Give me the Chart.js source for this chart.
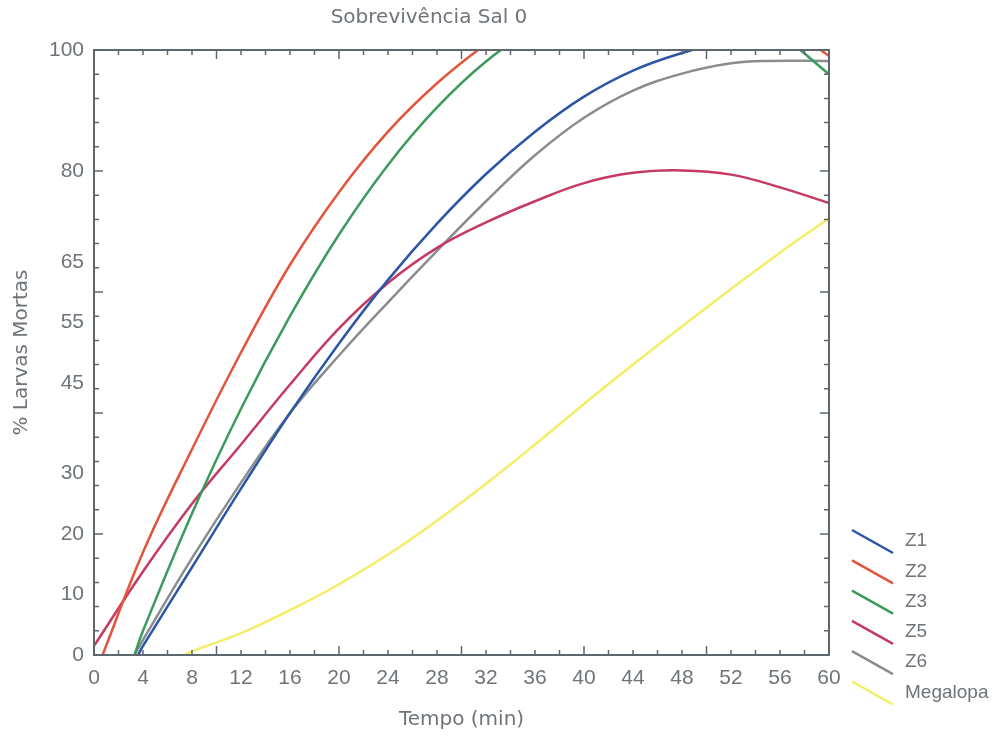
<!DOCTYPE html>
<html>
<head>
<meta charset="utf-8">
<title>Sobrevivência Sal 0</title>
<script src="https://cdn.jsdelivr.net/npm/chart.js@4/dist/chart.umd.min.js"></script>
<style>
  html, body { margin: 0; padding: 0; background: #fff; }
  #wrap { width: 1006px; height: 737px; }
</style>
</head>
<body>
<div id="wrap"><canvas id="chart"></canvas></div>
<script>
// values (time in min, % dead larvae)
const z1Time = [3.6, 4, 8, 12, 16, 20, 24, 28, 32, 36, 40, 44, 48, 52, 56, 60];
const z1Vals = [0, 1.5, 14.5, 27.5, 40, 51.5, 62, 71.3, 79.5, 86.5, 92.3, 96.6, 99.5, 101.5, 102.5, 103];

const z2Time = [0.7, 4, 8, 12, 16, 20, 24, 28, 32, 36, 40, 44, 48, 52, 56, 60];
const z2Vals = [0, 17, 34, 50, 64.5, 76.5, 86.5, 94.5, 101, 106.5, 110, 111.5, 111, 108.8, 104.7, 99];

const z3Time = [3.3, 4, 8, 12, 16, 20, 24, 28, 32, 36, 40, 44, 48, 52, 56, 60];
const z3Vals = [0, 4, 23.4, 40.7, 56, 69.5, 81, 90.5, 98.1, 103.7, 107.4, 109.1, 108.8, 106.6, 102.5, 96];

const z5Time = [0, 4, 8, 12, 16, 20, 24, 28, 32, 36, 40, 44, 48, 52, 56, 60];
const z5Vals = [1.5, 13.8, 25, 34.8, 44.7, 54, 61.5, 67.3, 71.5, 75, 78, 79.7, 80.1, 79.4, 77.3, 74.7];

const z6Time = [3.3, 4, 8, 12, 16, 20, 24, 28, 32, 36, 40, 44, 48, 52, 55, 60];
const z6Vals = [0, 2.5, 16, 28.5, 40, 49.5, 58.3, 66.8, 75, 82.6, 88.8, 93.3, 96.1, 97.8, 98.2, 98.2];

const megTime = [7.4, 8, 12, 16, 20, 24, 28, 32, 36, 40, 44, 48, 52, 56, 60];
const megVals = [0, 0.6, 3.6, 7.4, 11.7, 16.6, 22.2, 28.3, 34.8, 41.5, 48, 54.3, 60.5, 66.5, 72.2];

const seriesNames = ['Z1', 'Z2', 'Z3', 'Z5', 'Z6', 'Megalopa'];
const seriesColors = ['#2d55a6', '#e3553b', '#3c9a5c', '#c63a62', '#8a8d90', '#f4ee66'];

const yTickLabels = [0, 10, 20, 30, 45, 55, 65, 80, 100];

const textColor = '#6e7479';
const axisColor = '#5f676e';
const tickFont = '"Liberation Sans", Arial, sans-serif';
const titleFont = '"DejaVu Sans", sans-serif';

function toPoints(times, vals) {
    return times.map((t, i) => ({x: t, y: vals[i]}));
}

const allSeries = [
    toPoints(z1Time, z1Vals),
    toPoints(z2Time, z2Vals),
    toPoints(z3Time, z3Vals),
    toPoints(z5Time, z5Vals),
    toPoints(z6Time, z6Vals),
    toPoints(megTime, megVals)
];

// box round the plot with inward tick marks, like the original
const framePlugin = {
    id: 'frame',
    afterDatasetsDraw(chart) {
        const {ctx, chartArea: a, scales: {x, y}} = chart;
        ctx.save();
        ctx.strokeStyle = axisColor;
        ctx.lineWidth = 2;
        ctx.strokeRect(a.left, a.top, a.right - a.left, a.bottom - a.top);
        ctx.lineWidth = 1.5;
        ctx.beginPath();
        for (let t = 0; t <= 60; t += 2) {
            const px = x.getPixelForValue(t);
            const len = t % 10 === 0 ? 9 : 5;
            ctx.moveTo(px, a.bottom);
            ctx.lineTo(px, a.bottom - len);
            ctx.moveTo(px, a.top);
            ctx.lineTo(px, a.top + len);
        }
        for (let v = 0; v <= 100; v += 4) {
            const py = y.getPixelForValue(v);
            const len = v % 20 === 0 ? 9 : 5;
            ctx.moveTo(a.left, py);
            ctx.lineTo(a.left + len, py);
            ctx.moveTo(a.right, py);
            ctx.lineTo(a.right - len, py);
        }
        ctx.stroke();
        ctx.restore();
    }
};

// legend with slanted line samples to the right of the plot
const legendPlugin = {
    id: 'slantLegend',
    afterDraw(chart) {
        const {ctx, chartArea: a} = chart;
        ctx.save();
        ctx.font = '19px ' + tickFont;
        ctx.textBaseline = 'middle';
        ctx.textAlign = 'left';
        chart.data.datasets.forEach((ds, i) => {
            const cy = a.bottom - 114 + i * 30.3;
            ctx.strokeStyle = ds.borderColor;
            ctx.lineWidth = 2.5;
            ctx.beginPath();
            ctx.moveTo(a.right + 23, cy - 11);
            ctx.lineTo(a.right + 64, cy + 12);
            ctx.stroke();
            ctx.fillStyle = textColor;
            ctx.fillText(ds.label, a.right + 76, cy);
        });
        ctx.restore();
    }
};

new Chart(document.getElementById('chart'), {
    type: 'line',
    data: {
        datasets: allSeries.map((pts, i) => ({
            label: seriesNames[i],
            data: pts,
            borderColor: seriesColors[i],
            backgroundColor: seriesColors[i],
            borderWidth: 2.5,
            pointRadius: 0,
            tension: 0.4,
            clip: 1
        }))
    },
    options: {
        responsive: true,
        maintainAspectRatio: false,
        animation: false,
        layout: {padding: {left: 0, top: 0, right: 148, bottom: 0}},
        plugins: {
            legend: {display: false},
            tooltip: {enabled: false},
            title: {
                display: true,
                text: 'Sobrevivência Sal 0',
                color: textColor,
                font: {family: titleFont, size: 20, weight: 'normal'},
                padding: {top: 6, bottom: 20}
            }
        },
        scales: {
            x: {
                type: 'linear',
                min: 0,
                max: 60,
                grid: {display: false, drawTicks: false},
                border: {display: false},
                ticks: {
                    stepSize: 4,
                    color: textColor,
                    padding: 11,
                    maxRotation: 0,
                    font: {family: tickFont, size: 21}
                },
                title: {
                    display: true,
                    text: 'Tempo (min)',
                    color: textColor,
                    padding: {top: 0, bottom: 5},
                    font: {family: titleFont, size: 20}
                },
                afterFit(scale) { scale.height = 82; }
            },
            y: {
                type: 'linear',
                min: 0,
                max: 100,
                grid: {display: false, drawTicks: false},
                border: {display: false},
                afterBuildTicks(scale) {
                    scale.ticks = yTickLabels.map(v => ({value: v}));
                },
                ticks: {
                    color: textColor,
                    padding: 10,
                    font: {family: tickFont, size: 21}
                },
                title: {
                    display: true,
                    text: '% Larvas Mortas',
                    color: textColor,
                    padding: {top: 10, bottom: 0},
                    font: {family: titleFont, size: 20}
                },
                afterFit(scale) { scale.width = 94; }
            },
            y2: {
                type: 'linear',
                position: 'right',
                min: 0,
                max: 100,
                grid: {display: false, drawTicks: false},
                border: {display: false},
                ticks: {display: false},
                afterFit(scale) { scale.width = 29; }
            }
        }
    },
    plugins: [framePlugin, legendPlugin]
});
</script>
</body>
</html>
